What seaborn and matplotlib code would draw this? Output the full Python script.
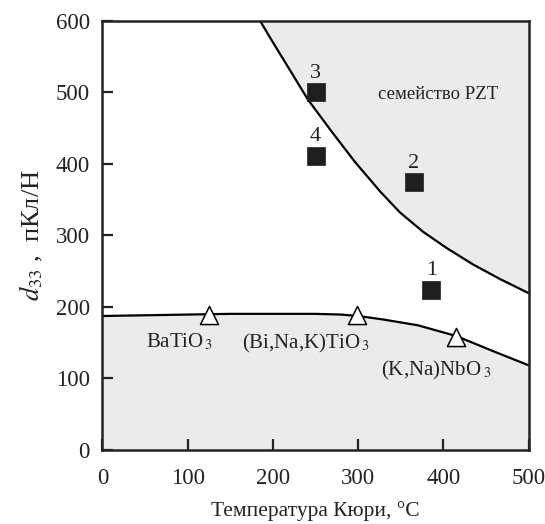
import matplotlib
matplotlib.use("Agg")
import matplotlib.pyplot as plt
import seaborn as sns
import numpy as np
import pandas as pd

# Upper boundary (PZT family)
pzt_x = [185, 200, 218, 241, 269, 296, 326, 349, 376, 404, 435, 466, 500]
pzt_y = [600, 570, 535, 490, 445, 403, 361, 332, 305, 282, 259, 239, 219]

# Lower boundary (lead-free)
low_x = [0, 50, 100, 150, 200, 250, 280, 300, 330, 370, 415, 460, 500]
low_y = [187, 188, 189, 190, 190, 190, 189, 187, 182, 174, 159, 137, 118]

# Lead-free materials (triangles)
tri_x = [125, 299, 415]
tri_y = [188, 188, 157]
tri_names = [r"BaTiO$_{\,3}$", r"(Bi,Na,K)TiO$_{\,3}$", r"(K,Na)NbO$_{\ 3}$"]
tri_label_x = [90, 238, 392]
tri_label_y = [150, 148, 111]

# Numbered samples (squares)
sq_x = [386, 365, 250, 250]
sq_y = [224, 374, 500, 411]
sq_names = ["1", "2", "3", "4"]

sns.set_style("ticks")
plt.rcParams['font.family'] = ['Liberation Serif', 'DejaVu Serif']
plt.rcParams['mathtext.fontset'] = 'stix'

fig = plt.figure(figsize=(5.45, 5.24), dpi=100)
ax = fig.add_axes([0.188, 0.142, 0.782, 0.818])

gray = "#ebebeb"
ax.fill_between(pzt_x, pzt_y, 600, color=gray, lw=0, zorder=0)
ax.fill_between(low_x, 0, low_y, color=gray, lw=0, zorder=0)

sns.lineplot(x=pzt_x, y=pzt_y, ax=ax, color="black", lw=1.6, sort=False, zorder=2)
sns.lineplot(x=low_x, y=low_y, ax=ax, color="black", lw=1.6, sort=False, zorder=2)

sns.scatterplot(x=tri_x, y=tri_y, ax=ax, marker="^", s=170, color="white",
                edgecolor="black", linewidth=1.1, zorder=3)
sns.scatterplot(x=sq_x, y=sq_y, ax=ax, marker="s", s=150, color="#1e1e1e",
                edgecolor="#1e1e1e", linewidth=0.5, zorder=3)

for x, y, n in zip(sq_x, sq_y, sq_names):
    ax.text(x, y + 27, n, ha="center", va="center", fontsize=16, color="#222222")

for x, y, n in zip(tri_label_x, tri_label_y, tri_names):
    ax.text(x, y, n, ha="center", va="center", fontsize=15, color="#222222")

ax.text(394, 497, "семейство PZT", ha="center", va="center", fontsize=13.5, color="#222222")

ax.set_xlim(0, 500)
ax.set_ylim(0, 600)
ax.set_xticks([0, 100, 200, 300, 400, 500])
ax.set_yticks([0, 100, 200, 300, 400, 500, 600])
ax.tick_params(direction="in", length=8, width=1.6, labelsize=16.5,
               colors="#222222")
ax.tick_params(axis="x", pad=13)
ax.tick_params(axis="y", pad=9)
for s in ax.spines.values():
    s.set_linewidth(1.8)
    s.set_color("#222222")

ax.set_xlabel("Температура Кюри, °С", fontsize=15.5, labelpad=9, color="#222222")
ax.set_ylabel("$d_{33}$ ,  пКл/Н", fontsize=19, labelpad=8, color="#222222")

fig.savefig("out.png", dpi=100)
